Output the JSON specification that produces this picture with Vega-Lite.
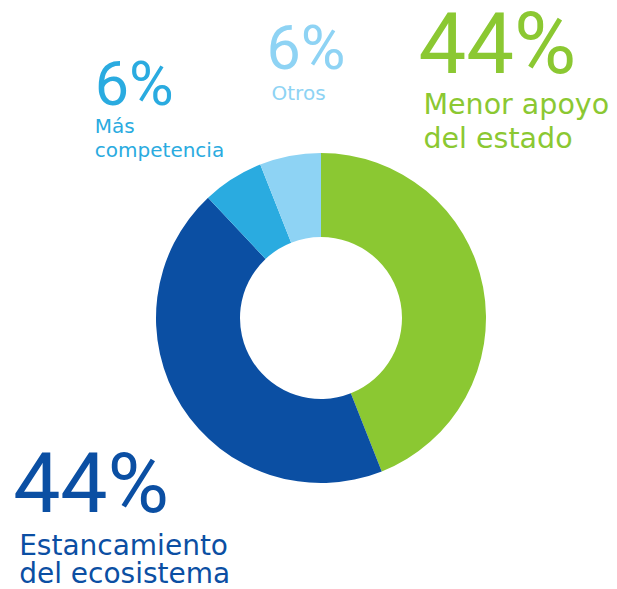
{
  "$schema": "https://vega.github.io/schema/vega-lite/v6.json",
  "width": 592,
  "height": 542,
  "autosize": {"type": "none"},
  "padding": {"left": 25, "top": 47, "right": 0, "bottom": 0},
  "background": "white",
  "config": {"view": {"stroke": null}, "text": {"font": "DejaVu Sans"}},
  "data": {
    "values": [
      {"categoria": "Menor apoyo del estado", "pct": "44%", "etiqueta": "Menor apoyo\ndel estado", "valor": 44, "orden": 1},
      {"categoria": "Estancamiento del ecosistema", "pct": "44%", "etiqueta": "Estancamiento\ndel ecosistema", "valor": 44, "orden": 2},
      {"categoria": "Más competencia", "pct": "6%", "etiqueta": "Más\ncompetencia", "valor": 6, "orden": 3},
      {"categoria": "Otros", "pct": "6%", "etiqueta": "Otros", "valor": 6, "orden": 4}
    ]
  },
  "encoding": {
    "theta": {"field": "valor", "type": "quantitative", "stack": true},
    "order": {"field": "orden", "type": "quantitative"},
    "color": {
      "field": "categoria",
      "type": "nominal",
      "scale": {
        "domain": ["Menor apoyo del estado", "Estancamiento del ecosistema", "Más competencia", "Otros"],
        "range": ["#8BC832", "#0B4FA3", "#2AABE0", "#8ED3F4"]
      },
      "legend": null
    }
  },
  "layer": [
    {"mark": {"type": "arc", "outerRadius": 165, "innerRadius": 81}},
    {
      "mark": {"type": "text", "radius": 200, "align": "left", "baseline": "alphabetic", "font": "Roboto", "fontSize": 85, "dx": -99, "dy": -208},
      "encoding": {"text": {"condition": {"test": "datum.orden === 1", "field": "pct"}, "value": ""}}
    },
    {
      "mark": {"type": "text", "radius": 200, "align": "left", "baseline": "alphabetic", "fontSize": 28.5, "lineHeight": 34, "lineBreak": "\n", "dx": -94, "dy": -167},
      "encoding": {"text": {"condition": {"test": "datum.orden === 1", "field": "etiqueta"}, "value": ""}}
    },
    {
      "mark": {"type": "text", "radius": 200, "align": "left", "baseline": "alphabetic", "font": "Roboto", "fontSize": 84, "dx": -139, "dy": 87},
      "encoding": {"text": {"condition": {"test": "datum.orden === 2", "field": "pct"}, "value": ""}}
    },
    {
      "mark": {"type": "text", "radius": 200, "align": "left", "baseline": "alphabetic", "fontSize": 28, "lineHeight": 28, "lineBreak": "\n", "dx": -133, "dy": 130},
      "encoding": {"text": {"condition": {"test": "datum.orden === 2", "field": "etiqueta"}, "value": ""}}
    },
    {
      "mark": {"type": "text", "radius": 200, "align": "left", "baseline": "alphabetic", "font": "Roboto", "fontSize": 61, "dx": -119, "dy": -44},
      "encoding": {"text": {"condition": {"test": "datum.orden === 3", "field": "pct"}, "value": ""}}
    },
    {
      "mark": {"type": "text", "radius": 200, "align": "left", "baseline": "alphabetic", "fontSize": 20, "lineHeight": 24, "lineBreak": "\n", "dx": -119, "dy": -16},
      "encoding": {"text": {"condition": {"test": "datum.orden === 3", "field": "etiqueta"}, "value": ""}}
    },
    {
      "mark": {"type": "text", "radius": 200, "align": "left", "baseline": "alphabetic", "font": "Roboto", "fontSize": 61, "dx": -17, "dy": -53},
      "encoding": {"text": {"condition": {"test": "datum.orden === 4", "field": "pct"}, "value": ""}}
    },
    {
      "mark": {"type": "text", "radius": 200, "align": "left", "baseline": "alphabetic", "fontSize": 20, "dx": -12, "dy": -22},
      "encoding": {"text": {"condition": {"test": "datum.orden === 4", "field": "etiqueta"}, "value": ""}}
    }
  ]
}
